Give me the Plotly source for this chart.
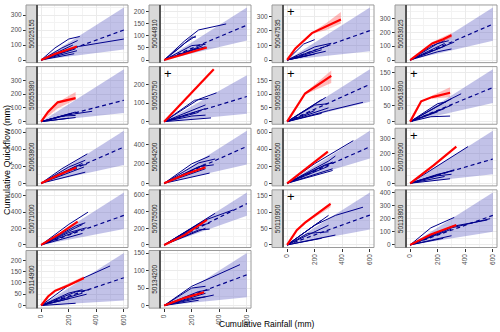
import plotly.graph_objects as go

# ---- data -----------------------------------------------------------------
STATIONS = ["50025155", "50044810", "50047535", "50053025",
            "50055380", "50055750", "50058350", "50061800",
            "50063800", "50064200", "50065500", "50070900",
            "50071000", "50075500", "50110900", "50113800",
            "50114900", "50134200"]

# projected quickflow envelope at 600 mm of rainfall
BAND_HI = [350, 218, 360, 380, 380, 250, 190, 160, 615, 540, 615, 350, 640, 630, 160, 400, 232, 150]
BAND_LO = [70, 81, 60, 140, 62, 43, 72, 57, 215, 193, 290, 61, 193, 351, 47, 100, 22, 24]
MEDIAN = [200, 145, 202, 260, 155, 135, 135, 104, 425, 380, 427, 162, 360, 496, 91, 225, 123, 88]
Y_DTICK = [100, 50, 100, 100, 100, 100, 50, 50, 200, 200, 200, 100, 200, 200, 50, 100, 50, 50]
FLAGGED = ["50047535", "50055750", "50058350", "50061800", "50070900", "50110900"]
X_TICKS = [0, 200, 400, 600]

# past years: cumulative (rainfall, quickflow)
hist_50025155 = [[(0, 0), (100, 80), (200, 140), (280, 157)], [(0, 0), (150, 80), (265, 130)],
                 [(0, 0), (270, 90), (600, 140)], [(0, 0), (200, 50), (260, 62)],
                 [(0, 0), (180, 35), (240, 42)], [(0, 0), (250, 75)], [(0, 0), (230, 100)]]
hist_50044810 = [[(0, 0), (150, 80), (250, 125), (450, 150)], [(0, 0), (150, 70), (230, 100)],
                 [(0, 0), (200, 60), (300, 65)], [(0, 0), (250, 50)], [(0, 0), (200, 40), (300, 55)],
                 [(0, 0), (280, 60)], [(0, 0), (100, 45), (200, 95), (230, 95)]]
hist_50047535 = [[(0, 0), (120, 110), (200, 140)], [(0, 0), (200, 90), (320, 115)], [(0, 0), (300, 100)],
                 [(0, 0), (250, 70)], [(0, 0), (280, 60)], [(0, 0), (200, 40)], [(0, 0), (150, 30)]]
hist_50053025 = [[(0, 0), (150, 100), (250, 140)], [(0, 0), (200, 120), (280, 140)], [(0, 0), (320, 130)],
                 [(0, 0), (250, 100)], [(0, 0), (200, 60), (300, 80)], [(0, 0), (250, 120)]]
hist_50055380 = [[(0, 0), (200, 50), (370, 75)], [(0, 0), (200, 55), (250, 70)], [(0, 0), (150, 40), (250, 45)],
                 [(0, 0), (250, 30)], [(0, 0), (150, 20), (200, 25)], [(0, 0), (220, 60)]]
hist_50055750 = [[(0, 0), (250, 120), (380, 155)], [(0, 0), (220, 115), (320, 125)], [(0, 0), (300, 90)],
                 [(0, 0), (300, 70)], [(0, 0), (250, 50)], [(0, 0), (340, 20)], [(0, 0), (200, 30), (300, 35)]]
hist_50058350 = [[(0, 0), (280, 88)], [(0, 0), (250, 80)], [(0, 0), (200, 60), (300, 65)], [(0, 0), (300, 50)],
                 [(0, 0), (300, 40), (550, 70)], [(0, 0), (200, 40)], [(0, 0), (250, 30)]]
hist_50061800 = [[(0, 0), (250, 60), (370, 85)], [(0, 0), (200, 55), (260, 60)], [(0, 0), (300, 50)],
                 [(0, 0), (250, 40)], [(0, 0), (200, 30)], [(0, 0), (150, 15), (290, 17)], [(0, 0), (300, 70)]]
hist_50063800 = [[(0, 0), (150, 170), (335, 345)], [(0, 0), (200, 190), (320, 270)], [(0, 0), (300, 235)],
                 [(0, 0), (250, 200), (330, 220)], [(0, 0), (310, 190)], [(0, 0), (320, 130)],
                 [(0, 0), (200, 150), (260, 170)]]
hist_50064200 = [[(0, 0), (200, 200), (330, 280)], [(0, 0), (250, 210), (370, 250)], [(0, 0), (300, 200)],
                 [(0, 0), (250, 170), (360, 190)], [(0, 0), (330, 105)], [(0, 0), (300, 150)]]
hist_50065500 = [[(0, 0), (200, 230), (480, 500)], [(0, 0), (300, 260), (350, 320)],
                 [(0, 0), (280, 220), (340, 240)], [(0, 0), (300, 200)], [(0, 0), (330, 170)],
                 [(0, 0), (250, 110), (330, 150)], [(0, 0), (200, 150), (330, 250)]]
hist_50070900 = [[(0, 0), (420, 245)], [(0, 0), (200, 60), (300, 80)], [(0, 0), (250, 70), (320, 90)],
                 [(0, 0), (290, 30)], [(0, 0), (200, 50), (300, 60)], [(0, 0), (250, 45)]]
hist_50071000 = [[(0, 0), (200, 250), (340, 400)], [(0, 0), (250, 230), (320, 270)], [(0, 0), (300, 250)],
                 [(0, 0), (200, 150), (330, 210)], [(0, 0), (280, 180)], [(0, 0), (300, 140)]]
hist_50075500 = [[(0, 0), (300, 300), (500, 420)], [(0, 0), (200, 200), (370, 380)], [(0, 0), (300, 300)],
                 [(0, 0), (250, 230), (330, 260)], [(0, 0), (250, 180), (330, 190)], [(0, 0), (300, 200)]]
hist_50110900 = [[(0, 0), (200, 60), (350, 90), (550, 115)], [(0, 0), (300, 90)], [(0, 0), (250, 75)],
                 [(0, 0), (300, 60)], [(0, 0), (150, 35), (300, 40)], [(0, 0), (350, 30)], [(0, 0), (250, 20)]]
hist_50113800 = [[(0, 0), (150, 130), (320, 210)], [(0, 0), (300, 130), (580, 200)],
                 [(0, 0), (300, 140), (560, 190)], [(0, 0), (300, 120)], [(0, 0), (240, 50)], [(0, 0), (300, 70)]]
hist_50114900 = [[(0, 0), (200, 90), (300, 120), (500, 175)], [(0, 0), (200, 55), (300, 70)],
                 [(0, 0), (250, 60), (350, 70)], [(0, 0), (300, 55)], [(0, 0), (330, 50)],
                 [(0, 0), (150, 25), (200, 30)], [(0, 0), (250, 10)]]
hist_50134200 = [[(0, 0), (200, 55), (550, 117)], [(0, 0), (200, 50), (300, 55)], [(0, 0), (250, 40), (330, 45)],
                 [(0, 0), (300, 35)], [(0, 0), (360, 30)], [(0, 0), (250, 15)], [(0, 0), (200, 20), (300, 25)]]

# current year
cur_50025155 = [(0, 0), (100, 40), (180, 65), (260, 90)]
cur_50044810 = [(0, 0), (150, 25), (310, 52)]
cur_50047535 = [(0, 0), (60, 80), (180, 185), (280, 230), (390, 278)]
cur_50053025 = [(0, 0), (80, 60), (160, 120), (240, 150), (300, 180)]
cur_50055380 = [(0, 0), (50, 70), (120, 140), (250, 170)]
cur_50055750 = [(0, 0), (180, 140), (360, 282)]
cur_50058350 = [(0, 0), (130, 102), (190, 122), (320, 166)]
cur_50061800 = [(0, 0), (80, 62), (160, 75), (290, 88)]
cur_50063800 = [(0, 0), (130, 100), (255, 185)]
cur_50064200 = [(0, 0), (150, 90), (300, 165)]
cur_50065500 = [(0, 0), (150, 190), (295, 370)]
cur_50070900 = [(0, 0), (170, 120), (335, 245)]
cur_50071000 = [(0, 0), (140, 140), (265, 285)]
cur_50075500 = [(0, 0), (150, 120), (310, 300)]
cur_50110900 = [(0, 0), (70, 45), (130, 68), (220, 95), (315, 125)]
cur_50113800 = [(0, 0), (150, 80), (335, 152)]
cur_50114900 = [(0, 0), (50, 40), (100, 65), (200, 90), (310, 122)]
cur_50134200 = [(0, 0), (150, 22), (290, 38)]

# current-year uncertainty: (rainfall, low, high)
unc_50047535 = [(180, 180, 190), (280, 205, 250), (390, 250, 330)]
unc_50053025 = [(160, 110, 130), (240, 135, 165), (300, 160, 195)]
unc_50055380 = [(0, 0, 0), (120, 95, 140), (250, 160, 215)]
unc_50058350 = [(130, 98, 105), (190, 110, 130), (320, 140, 185)]
unc_50061800 = [(160, 70, 80), (290, 75, 105)]
unc_50065500 = [(0, 0, 0), (150, 175, 200), (295, 350, 380)]
unc_50110900 = [(130, 65, 70), (220, 88, 100), (315, 115, 130)]
unc_50114900 = [(100, 60, 70), (200, 85, 100), (310, 115, 130)]

HISTORY = [hist_50025155, hist_50044810, hist_50047535, hist_50053025, hist_50055380, hist_50055750,
           hist_50058350, hist_50061800, hist_50063800, hist_50064200, hist_50065500, hist_50070900,
           hist_50071000, hist_50075500, hist_50110900, hist_50113800, hist_50114900, hist_50134200]
CURRENT = [cur_50025155, cur_50044810, cur_50047535, cur_50053025, cur_50055380, cur_50055750,
           cur_50058350, cur_50061800, cur_50063800, cur_50064200, cur_50065500, cur_50070900,
           cur_50071000, cur_50075500, cur_50110900, cur_50113800, cur_50114900, cur_50134200]
UNCERTAINTY = {"50047535": unc_50047535, "50053025": unc_50053025, "50055380": unc_50055380,
               "50058350": unc_50058350, "50061800": unc_50061800, "50065500": unc_50065500,
               "50110900": unc_50110900, "50114900": unc_50114900}

# ---- layout geometry (pixels) ---------------------------------------------
W, H = 500, 332
COL_LEFT = [37, 160, 283, 406]
PANEL_W = 91
ROW_TOP = [4, 66, 128, 190, 251]
PANEL_H = 58
STRIP_W = 11
NCOL = 4
FONT = "Liberation Sans, Arial, sans-serif"
NAVY = "#00008B"
GRID = "#EBEBEB"
GRID_MINOR = "#F3F3F3"

def fx(px):
    return px / W

def fy(py):
    return 1 - py / H

fig = go.Figure()
shapes, annotations = [], []
n = len(STATIONS)
bottom_panels = {i for i in range(n) if i + NCOL >= n}

for i, st in enumerate(STATIONS):
    r, c = divmod(i, NCOL)
    k = i + 1
    xa, ya = f"x{k}", f"y{k}"
    left, top = COL_LEFT[c], ROW_TOP[r]
    right, bot = left + PANEL_W, top + PANEL_H

    # envelope and median projection
    fig.add_trace(go.Scatter(x=[0, 600, 600, 0], y=[0, BAND_HI[i], BAND_LO[i], 0], fill="toself",
                             fillcolor="rgba(95,95,195,0.38)", line=dict(width=0),
                             mode="lines", hoverinfo="skip", xaxis=xa, yaxis=ya))
    for line in HISTORY[i]:
        fig.add_trace(go.Scatter(x=[p[0] for p in line], y=[p[1] for p in line], mode="lines",
                                 line=dict(color=NAVY, width=1), xaxis=xa, yaxis=ya))
    fig.add_trace(go.Scatter(x=[0, 600], y=[0, MEDIAN[i]], mode="lines",
                             line=dict(color=NAVY, width=1.2, dash="4px,3px"), xaxis=xa, yaxis=ya))
    unc = UNCERTAINTY.get(st)
    if unc:
        ux = [p[0] for p in unc] + [p[0] for p in unc[::-1]]
        uy = [p[2] for p in unc] + [p[1] for p in unc[::-1]]
        fig.add_trace(go.Scatter(x=ux, y=uy, fill="toself", fillcolor="rgba(255,60,60,0.35)",
                                 line=dict(width=0), mode="lines", xaxis=xa, yaxis=ya))
    cur = CURRENT[i]
    fig.add_trace(go.Scatter(x=[p[0] for p in cur], y=[p[1] for p in cur], mode="lines",
                             line=dict(color="#FF0000", width=2.2), xaxis=xa, yaxis=ya))

    ymax = max([BAND_HI[i]] + [p[1] for l in HISTORY[i] for p in l] + [p[1] for p in cur] +
               ([p[2] for p in unc] if unc else []))
    show_x = i in bottom_panels
    fig.update_layout(**{
        f"xaxis{'' if k == 1 else k}": dict(
            domain=[fx(left), fx(right)], anchor=ya, range=[-30, 630], tickvals=X_TICKS,
            showticklabels=show_x, ticks="outside" if show_x else "", ticklen=3, tickcolor="#333333",
            tickangle=-90, tickfont=dict(size=6.5, color="#4D4D4D", family=FONT),
            showgrid=True, gridcolor=GRID, gridwidth=1, zeroline=False, showline=False,
            minor=dict(tickvals=[100, 300, 500], showgrid=True, gridcolor=GRID_MINOR, gridwidth=1)),
        f"yaxis{'' if k == 1 else k}": dict(
            domain=[fy(bot), fy(top)], anchor="free", position=fx(left - STRIP_W),
            range=[-0.05 * ymax, 1.05 * ymax], dtick=Y_DTICK[i], tick0=0,
            ticks="outside", ticklen=3, tickcolor="#333333",
            tickfont=dict(size=6.5, color="#4D4D4D", family=FONT),
            showgrid=True, gridcolor=GRID, gridwidth=1, zeroline=False, showline=False,
            minor=dict(dtick=Y_DTICK[i] / 2, tick0=0, showgrid=True, gridcolor=GRID_MINOR, gridwidth=1)),
    })

    # panel border and strip
    shapes.append(dict(type="rect", xref="paper", yref="paper", x0=fx(left), x1=fx(right),
                       y0=fy(bot), y1=fy(top), line=dict(color="#9A9A9A", width=1)))
    shapes.append(dict(type="rect", xref="paper", yref="paper", x0=fx(left - STRIP_W), x1=fx(left),
                       y0=fy(bot), y1=fy(top), fillcolor="#D9D9D9",
                       line=dict(color="#9A9A9A", width=1)))
    shapes.append(dict(type="line", xref="paper", yref="paper", x0=fx(left), x1=fx(left),
                       y0=fy(bot), y1=fy(top), line=dict(color="#333333", width=1.5)))
    annotations.append(dict(text=st, xref="paper", yref="paper", x=fx(left - STRIP_W / 2),
                            y=fy((top + bot) / 2), xanchor="center", yanchor="middle",
                            textangle=-90, showarrow=False,
                            font=dict(size=6.5, color="#1A1A1A", family=FONT)))
    if st in FLAGGED:
        annotations.append(dict(text="+", xref=f"{xa} domain", yref=f"{ya} domain", x=0.09, y=0.88,
                                xanchor="center", yanchor="middle", showarrow=False,
                                font=dict(size=13, color="black", family=FONT)))

annotations.append(dict(text="Cumulative Rainfall (mm)", xref="paper", yref="paper",
                        x=fx((COL_LEFT[0] + COL_LEFT[-1] + PANEL_W) / 2), y=fy(325),
                        xanchor="center", yanchor="middle", showarrow=False,
                        font=dict(size=8.5, color="black", family=FONT)))
annotations.append(dict(text="Cumulative Quickflow (mm)", xref="paper", yref="paper",
                        x=fx(7), y=fy(160), xanchor="center", yanchor="middle",
                        textangle=-90, showarrow=False,
                        font=dict(size=9, color="black", family=FONT)))

fig.update_layout(width=W, height=H, margin=dict(l=0, r=0, t=0, b=0),
                  paper_bgcolor="white", plot_bgcolor="white", showlegend=False,
                  shapes=shapes, annotations=annotations, font=dict(family=FONT))
fig.write_html("out.html")
